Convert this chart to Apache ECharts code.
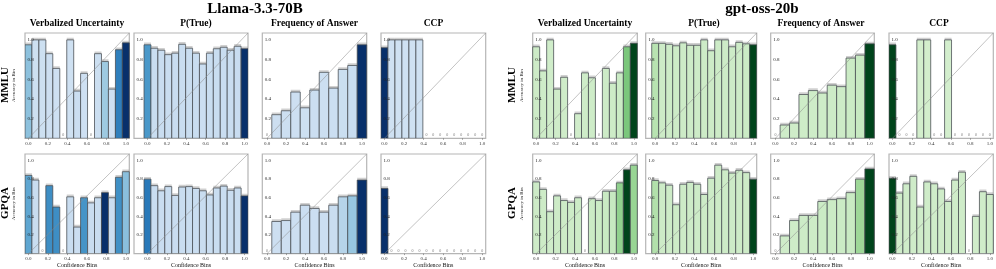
<!DOCTYPE html>
<html><head><meta charset="utf-8">
<script src="https://cdn.jsdelivr.net/npm/echarts@6/dist/echarts.min.js"></script>
<style>html,body{margin:0;padding:0;background:#fff}#c{width:996px;height:269px}</style>
</head><body><div id="c"></div>
<script>
// ---------- categories / ticks ----------
const models = ['Llama-3.3-70B', 'gpt-oss-20b'];
const methods = ['Verbalized Uncertainty', 'P(True)', 'Frequency of Answer', 'CCP'];
const datasets = ['MMLU', 'GPQA'];
const bins15 = [0.000, 0.071, 0.143, 0.214, 0.286, 0.357, 0.429, 0.500, 0.571, 0.643, 0.714, 0.786, 0.857, 0.929, 1.000];
const bins11 = [0.0, 0.1, 0.2, 0.3, 0.4, 0.5, 0.6, 0.7, 0.8, 0.9, 1.0];
const xTicks = [0.0, 0.2, 0.4, 0.6, 0.8, 1.0];
const yTicks = [0.2, 0.4, 0.6, 0.8, 1.0];

// ---------- Llama-3.3-70B, MMLU ----------
const llamaMmluVerbAcc = [0.95, 1.00, 1.00, 0.86, 0.71, 0, 1.00, 0.48, 0.66, 0, 0.86, 0.78, 0.50, 0.90, 0.97];
const llamaMmluVerbN   = [270, 15, 15, 20, 10, 0, 5, 30, 10, 0, 25, 220, 10, 620, 1000];
const llamaMmluPtAcc   = [0.95, 0.915, 0.895, 0.85, 0.865, 0.955, 0.915, 0.865, 0.755, 0.865, 0.91, 0.925, 0.895, 0.935, 0.91];
const llamaMmluPtN     = [500, 40, 40, 40, 40, 40, 40, 40, 30, 40, 40, 40, 40, 50, 1000];
const llamaMmluFreqAcc = [0, 0.24, 0.28, 0.47, 0.31, 0.49, 0.67, 0.51, 0.70, 0.74, 0.95];
const llamaMmluFreqN   = [0, 20, 25, 20, 15, 30, 25, 30, 35, 40, 1000];
const llamaMmluCcpAcc  = [0.92, 1, 1, 1, 1, 1, 0, 0, 0, 0, 0, 0, 0, 0, 0];
const llamaMmluCcpN    = [1000, 2, 2, 2, 2, 2, 0, 0, 0, 0, 0, 0, 0, 0, 0];
// ---------- Llama-3.3-70B, GPQA ----------
const llamaGpqaVerbAcc = [0.84, 0.79, 0, 0.73, 0.50, 0, 0.61, 0.285, 0.60, 0.545, 0.60, 0.655, 0.60, 0.82, 0.88];
const llamaGpqaVerbN   = [420, 40, 0, 550, 550, 0, 40, 30, 520, 40, 40, 1000, 40, 540, 280];
const llamaGpqaPtAcc   = [0.80, 0.73, 0.675, 0.72, 0.625, 0.715, 0.72, 0.70, 0.675, 0.63, 0.705, 0.725, 0.68, 0.705, 0.62];
const llamaGpqaPtN     = [650, 40, 40, 40, 40, 40, 40, 40, 40, 40, 40, 40, 40, 40, 1000];
const llamaGpqaFreqAcc = [0, 0.345, 0.355, 0.445, 0.52, 0.485, 0.445, 0.52, 0.61, 0.62, 0.79];
const llamaGpqaFreqN   = [0, 20, 20, 25, 30, 30, 30, 40, 125, 240, 1000];
const llamaGpqaCcpAcc  = [0.70, 0, 0, 0, 0, 0, 0, 0, 0, 0, 0, 0, 0, 0, 0];
const llamaGpqaCcpN    = [1000, 0, 0, 0, 0, 0, 0, 0, 0, 0, 0, 0, 0, 0, 0];
// ---------- gpt-oss-20b, MMLU ----------
const gptMmluVerbAcc = [0.93, 0.685, 1.00, 0.50, 0.62, 0, 0.25, 0.665, 0.615, 0, 0.71, 0.56, 0.665, 0.93, 0.965];
const gptMmluVerbN   = [30, 25, 15, 20, 20, 0, 10, 25, 25, 0, 30, 30, 40, 350, 1000];
const gptMmluPtAcc   = [0.965, 0.965, 0.955, 0.94, 0.97, 0.945, 0.945, 1.0, 0.89, 1.0, 1.0, 0.93, 0.975, 0.96, 0.95];
const gptMmluPtN     = [125, 30, 30, 30, 30, 30, 30, 30, 30, 30, 30, 30, 30, 40, 1000];
const gptMmluFreqAcc = [0, 0.135, 0.155, 0.445, 0.485, 0.46, 0.54, 0.525, 0.815, 0.845, 0.96];
const gptMmluFreqN   = [0, 20, 20, 25, 25, 25, 30, 30, 40, 60, 1000];
const gptMmluCcpAcc  = [0.95, 0, 0, 0, 1, 1, 0, 0, 1, 0, 0, 0, 0, 0, 0];
const gptMmluCcpN    = [1000, 0, 0, 0, 2, 2, 0, 0, 1, 0, 0, 0, 0, 0, 0];
// ---------- gpt-oss-20b, GPQA ----------
const gptGpqaVerbAcc = [0.77, 0.69, 0.45, 0.62, 0.57, 0.55, 0.60, 0, 0.59, 0.57, 0.67, 0.67, 0.76, 0.90, 0.95];
const gptGpqaVerbN   = [30, 30, 20, 30, 30, 30, 30, 0, 40, 40, 50, 60, 275, 1000, 250];
const gptGpqaPtAcc   = [0.785, 0.76, 0.735, 0.525, 0.745, 0.765, 0.745, 0.635, 0.81, 0.95, 0.90, 0.865, 0.895, 0.87, 0.80];
const gptGpqaPtN     = [150, 30, 30, 30, 30, 30, 30, 30, 30, 30, 30, 30, 30, 30, 1000];
const gptGpqaFreqAcc = [0, 0.19, 0.355, 0.41, 0.41, 0.56, 0.58, 0.59, 0.655, 0.80, 0.91];
const gptGpqaFreqN   = [0, 20, 25, 30, 30, 40, 40, 40, 50, 230, 1000];
const gptGpqaCcpAcc  = [0.81, 0.65, 0.75, 0.83, 0.50, 0.77, 0.75, 0.695, 0.56, 0.79, 0.875, 0, 0.40, 0.665, 0.635];
const gptGpqaCcpN    = [1000, 20, 20, 20, 20, 20, 20, 20, 20, 20, 20, 0, 20, 20, 20];

// ---------- panels (data wiring) ----------
const panels = [
  [0,0,0,bins15,llamaMmluVerbAcc,llamaMmluVerbN],[0,1,0,bins15,llamaMmluPtAcc,llamaMmluPtN],
  [0,2,0,bins11,llamaMmluFreqAcc,llamaMmluFreqN],[0,3,0,bins15,llamaMmluCcpAcc,llamaMmluCcpN],
  [1,0,0,bins15,gptMmluVerbAcc,gptMmluVerbN],[1,1,0,bins15,gptMmluPtAcc,gptMmluPtN],
  [1,2,0,bins11,gptMmluFreqAcc,gptMmluFreqN],[1,3,0,bins15,gptMmluCcpAcc,gptMmluCcpN],
  [0,0,1,bins15,llamaGpqaVerbAcc,llamaGpqaVerbN],[0,1,1,bins15,llamaGpqaPtAcc,llamaGpqaPtN],
  [0,2,1,bins11,llamaGpqaFreqAcc,llamaGpqaFreqN],[0,3,1,bins15,llamaGpqaCcpAcc,llamaGpqaCcpN],
  [1,0,1,bins15,gptGpqaVerbAcc,gptGpqaVerbN],[1,1,1,bins15,gptGpqaPtAcc,gptGpqaPtN],
  [1,2,1,bins11,gptGpqaFreqAcc,gptGpqaFreqN],[1,3,1,bins15,gptGpqaCcpAcc,gptGpqaCcpN]
];

// ---------- layout / style ----------
const SERIF = 'Liberation Serif, Times New Roman, serif';
const palettes = [
  ['#f7fbff','#deebf7','#c6dbef','#9ecae1','#6baed6','#4292c6','#2171b5','#08519c','#08306b'],
  ['#f7fcf5','#e5f5e0','#c7e9c0','#a1d99b','#74c476','#41ab5d','#238b45','#006d2c','#00441b']
];
const cols = [
  {left: 25,    width: 104.3, xmin: -0.0357, xmax: 1.0357},
  {left: 134,   width: 114,   xmin: -0.139,  xmax: 1.0357},
  {left: 262.3, width: 104.4, xmin: -0.05,   xmax: 1.05},
  {left: 381,   width: 104.7, xmin: -0.0357, xmax: 1.0357},
  {left: 532.7, width: 104.6, xmin: -0.0357, xmax: 1.0357},
  {left: 645.7, width: 111,   xmin: -0.097,  xmax: 1.0357},
  {left: 770.7, width: 103.6, xmin: -0.05,   xmax: 1.05},
  {left: 889,   width: 104.3, xmin: -0.0357, xmax: 1.0357}
];
const rows = [{top: 33, height: 105.3}, {top: 154, height: 103.7}];
const YMAX = 1.07;

function makeRender(binW, palette, maxN) {
  return function (params, api) {
    const x = api.value(0), acc = api.value(1), n = api.value(2);
    const cs = params.coordSys;
    const pL = api.coord([x - binW / 2, 0]);
    const pR = api.coord([x + binW / 2, 0]);
    const left = Math.max(pL[0], cs.x), right = Math.min(pR[0], cs.x + cs.width);
    const base = pL[1];
    if (!(n > 0)) {
      return {type: 'text', x: (left + right) / 2, y: base - 1,
        style: {text: '0', fontSize: 4, fill: '#777', align: 'center', verticalAlign: 'bottom', fontFamily: SERIF}};
    }
    const top = api.coord([x, acc])[1];
    const t = Math.min(1, 0.2 + 0.8 * n / maxN);
    const fill = echarts.color.lerp(t, palette);
    return {type: 'group', children: [
      {type: 'rect', shape: {x: left, y: top - 2.2, width: right - left, height: 2.2}, style: {fill: 'rgba(150,150,150,0.45)'}},
      {type: 'rect', shape: {x: left, y: top, width: right - left, height: base - top},
        style: {fill: fill, stroke: 'rgba(70,75,80,0.85)', lineWidth: 0.9}}
    ]};
  };
}

const grids = [], xAxes = [], yAxes = [], series = [];
panels.forEach((p, k) => {
  const [model, method, ds, bins, acc, n] = p;
  const col = cols[model * 4 + method], row = rows[ds];
  grids.push({left: col.left, top: row.top, width: col.width, height: row.height, show: true,
    borderColor: '#b5b5b5', borderWidth: 1.2, backgroundColor: 'transparent'});
  xAxes.push({type: 'value', gridIndex: k, min: col.xmin, max: col.xmax, z: 6,
    axisLine: {show: false}, splitLine: {show: false},
    axisTick: {show: true, customValues: xTicks, length: 1.5, lineStyle: {color: '#666', width: 0.6}},
    axisLabel: {customValues: xTicks, formatter: v => v.toFixed(1), fontSize: 5, margin: 2.5, color: '#333', fontFamily: SERIF},
    name: ds === 1 ? 'Confidence Bins' : '', nameLocation: 'middle', nameGap: 5,
    nameTextStyle: {fontSize: 6, fontFamily: SERIF, color: '#111'}});
  yAxes.push({type: 'value', gridIndex: k, min: 0, max: YMAX, z: 6,
    axisLine: {show: false}, splitLine: {show: false}, axisTick: {show: false},
    axisLabel: {inside: true, customValues: yTicks, formatter: v => v.toFixed(1), fontSize: 5, margin: 2.5, color: '#222', fontFamily: SERIF},
    name: method === 0 ? 'Accuracy in Bin' : '', nameLocation: 'middle', nameGap: 9,
    nameTextStyle: {fontSize: 5, fontFamily: SERIF, color: '#111'}});
  const binW = bins.length === 11 ? 0.1 : 1 / 14;
  series.push({type: 'custom', xAxisIndex: k, yAxisIndex: k, z: 1, silent: true,
    renderItem: makeRender(binW, palettes[model], Math.max(...n)),
    data: bins.map((b, i) => [b, acc[i], n[i]]), clip: true});
  series.push({type: 'line', xAxisIndex: k, yAxisIndex: k, z: 3, silent: true, symbol: 'none',
    lineStyle: {color: 'rgba(140,140,140,0.75)', width: 0.7},
    data: [[0, 0], [col.xmax, YMAX]], clip: true});
});

const graphics = [];
const txt = (x, y, text, size, weight, rot) => graphics.push({type: 'text', x, y, rotation: rot || 0,
  style: {text, fontSize: size, fontWeight: weight, fontFamily: SERIF, fill: '#000', align: 'center', verticalAlign: 'middle'}});
txt(255, 9, models[0], 15, 'bold');
txt(762, 9, models[1], 15, 'bold');
const titleX = [77, 196, 314.5, 433.5, 585, 704, 821, 939];
titleX.forEach((x, i) => txt(x, 24, methods[i % 4], 9.5, 'bold'));
txt(5.5, 85, datasets[0], 11, 'bold', Math.PI / 2);
txt(5.5, 203, datasets[1], 11, 'bold', Math.PI / 2);
txt(512, 85, datasets[0], 11, 'bold', Math.PI / 2);
txt(512, 203, datasets[1], 11, 'bold', Math.PI / 2);

const chart = echarts.init(document.getElementById('c'), null, {renderer: 'canvas'});
chart.setOption({animation: false, backgroundColor: '#fff', grid: grids, xAxis: xAxes, yAxis: yAxes, series, graphic: graphics});
</script></body></html>
